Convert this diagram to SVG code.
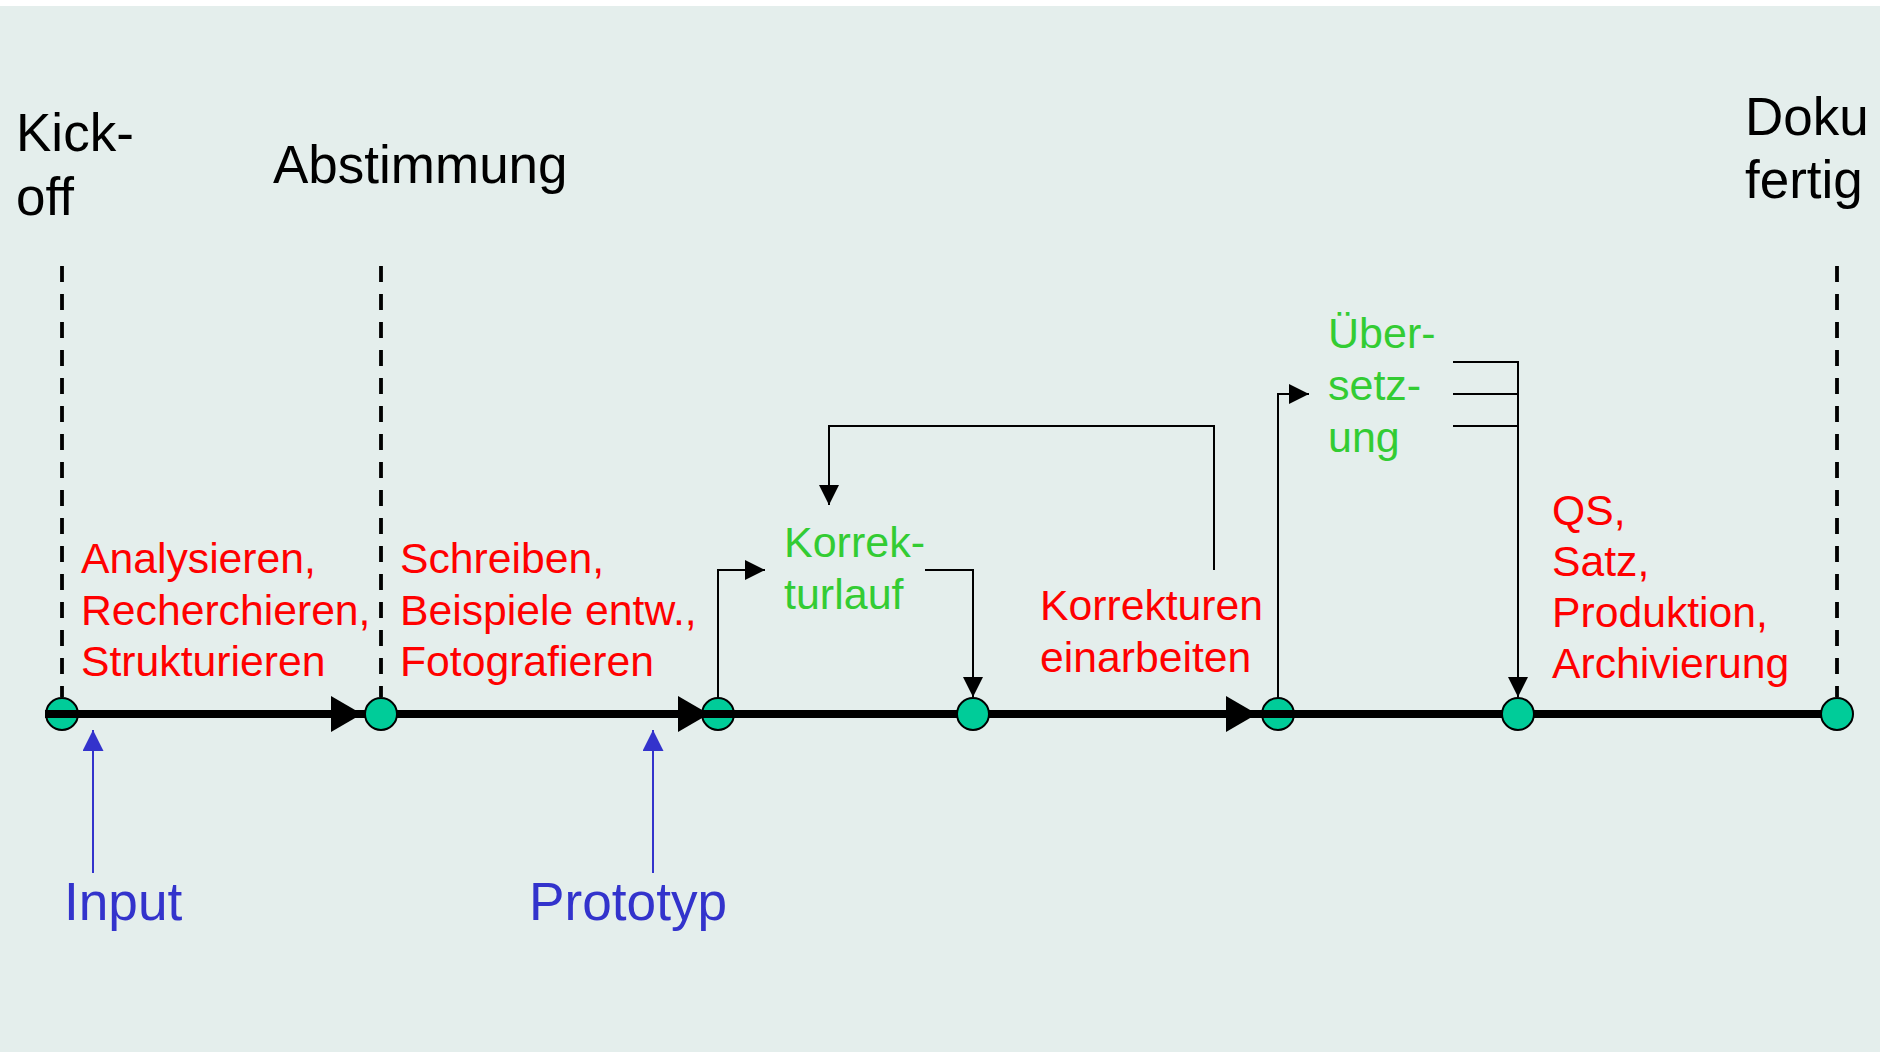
<svg xmlns="http://www.w3.org/2000/svg" width="1880" height="1052" viewBox="0 0 1880 1052">
  <style>
    text { font-family: "Liberation Sans", Arial, sans-serif; }
    .milestone { font-size: 53px; fill: #000000; }
    .task { font-size: 42.7px; fill: #FF0000; }
    .review { font-size: 43px; fill: #33CC33; }
    .input { font-size: 53.2px; fill: #3333CC; }
    .dash { stroke: #000000; stroke-width: 3.8; stroke-dasharray: 16 12; fill: none; }
    .node { fill: #00CC99; stroke: #000000; stroke-width: 2; }
    .thin { stroke: #000000; stroke-width: 2; fill: none; }
    .blue { stroke: #3333CC; stroke-width: 2; fill: none; }
  </style>
  <defs>
    <marker id="tip" viewBox="0 0 20 20" refX="20" refY="10" markerWidth="20" markerHeight="20" markerUnits="userSpaceOnUse" orient="auto">
      <path d="M0,0 L20,10 L0,20 Z" fill="#000000"/>
    </marker>
    <marker id="tipBlue" viewBox="0 0 20 20" refX="20" refY="10" markerWidth="21" markerHeight="21" markerUnits="userSpaceOnUse" orient="auto">
      <path d="M0,0 L20,10 L0,20 Z" fill="#3333CC"/>
    </marker>
  </defs>

  <!-- page background -->
  <rect x="0" y="0" width="1880" height="1052" fill="#FFFFFF"/>
  <rect x="0" y="6" width="1880" height="1046" fill="#E4EEEC"/>

  <!-- milestone headings with dashed markers -->
  <g id="kickoff">
    <text class="milestone" x="16" y="151" font-size="54">Kick-</text>
    <text class="milestone" x="16" y="215" font-size="54">off</text>
    <line class="dash" x1="62" y1="266" x2="62" y2="697"/>
  </g>
  <g id="abstimmung">
    <text class="milestone" x="273" y="183">Abstimmung</text>
    <line class="dash" x1="381" y1="266" x2="381" y2="697"/>
  </g>
  <g id="doku-fertig">
    <text class="milestone" x="1745" y="135">Doku</text>
    <text class="milestone" x="1745" y="198">fertig</text>
    <line class="dash" x1="1837" y1="266" x2="1837" y2="697"/>
  </g>

  <!-- phase labels -->
  <g id="phase-analyse">
    <text class="task" x="81" y="573">Analysieren,</text>
    <text class="task" x="81" y="625">Recherchieren,</text>
    <text class="task" x="81" y="676">Strukturieren</text>
  </g>
  <g id="phase-schreiben">
    <text class="task" x="400" y="573">Schreiben,</text>
    <text class="task" x="400" y="625">Beispiele entw.,</text>
    <text class="task" x="400" y="676">Fotografieren</text>
  </g>
  <g id="korrekturlauf">
    <text class="review" x="784" y="557">Korrek-</text>
    <text class="review" x="784" y="609">turlauf</text>
  </g>
  <g id="korrekturen">
    <text class="task" x="1040" y="620">Korrekturen</text>
    <text class="task" x="1040" y="672">einarbeiten</text>
  </g>
  <g id="uebersetzung">
    <text class="review" x="1328" y="348">Über-</text>
    <text class="review" x="1328" y="400">setz-</text>
    <text class="review" x="1328" y="452">ung</text>
  </g>
  <g id="phase-abschluss">
    <text class="task" x="1552" y="525">QS,</text>
    <text class="task" x="1552" y="576">Satz,</text>
    <text class="task" x="1552" y="627">Produktion,</text>
    <text class="task" x="1552" y="678">Archivierung</text>
  </g>
  <g id="input">
    <text class="input" x="64" y="920">Input</text>
  </g>
  <g id="prototyp">
    <text class="input" x="529" y="920">Prototyp</text>
  </g>

  <!-- nodes that sit beneath the timeline bar -->
  <g id="node-1"><circle class="node" cx="62" cy="714" r="16"/></g>
  <g id="node-3"><circle class="node" cx="718" cy="714" r="16"/></g>
  <g id="node-5"><circle class="node" cx="1278" cy="714" r="16"/></g>

  <g id="connectors">
    <!-- timeline bar with phase arrowheads -->
    <line x1="45" y1="714" x2="1837" y2="714" stroke="#000000" stroke-width="8"/>
    <path d="M331,696 L362,714 L331,732 Z" fill="#000000"/>
    <path d="M678,696 L709,714 L678,732 Z" fill="#000000"/>
    <path d="M1226,696 L1257,714 L1226,732 Z" fill="#000000"/>

    <!-- review loop -->
    <path class="thin" d="M718,698 V570 H765" marker-end="url(#tip)"/>
    <path class="thin" d="M925,570 H973 V697" marker-end="url(#tip)"/>
    <path class="thin" d="M1214,570 V426 H829 V505" marker-end="url(#tip)"/>

    <!-- translation branch -->
    <path class="thin" d="M1278,698 V394 H1309" marker-end="url(#tip)"/>
    <path class="thin" d="M1453,362 H1518"/>
    <path class="thin" d="M1453,394 H1518"/>
    <path class="thin" d="M1453,426 H1518"/>
    <path class="thin" d="M1518,361 V697" marker-end="url(#tip)"/>

    <!-- inputs -->
    <path class="blue" d="M93,873 V730" marker-end="url(#tipBlue)"/>
    <path class="blue" d="M653,873 V730" marker-end="url(#tipBlue)"/>
  </g>

  <!-- nodes drawn over the timeline bar -->
  <g id="node-2"><circle class="node" cx="381" cy="714" r="16"/></g>
  <g id="node-4"><circle class="node" cx="973" cy="714" r="16"/></g>
  <g id="node-6"><circle class="node" cx="1518" cy="714" r="16"/></g>
  <g id="node-7"><circle class="node" cx="1837" cy="714" r="16"/></g>
</svg>
